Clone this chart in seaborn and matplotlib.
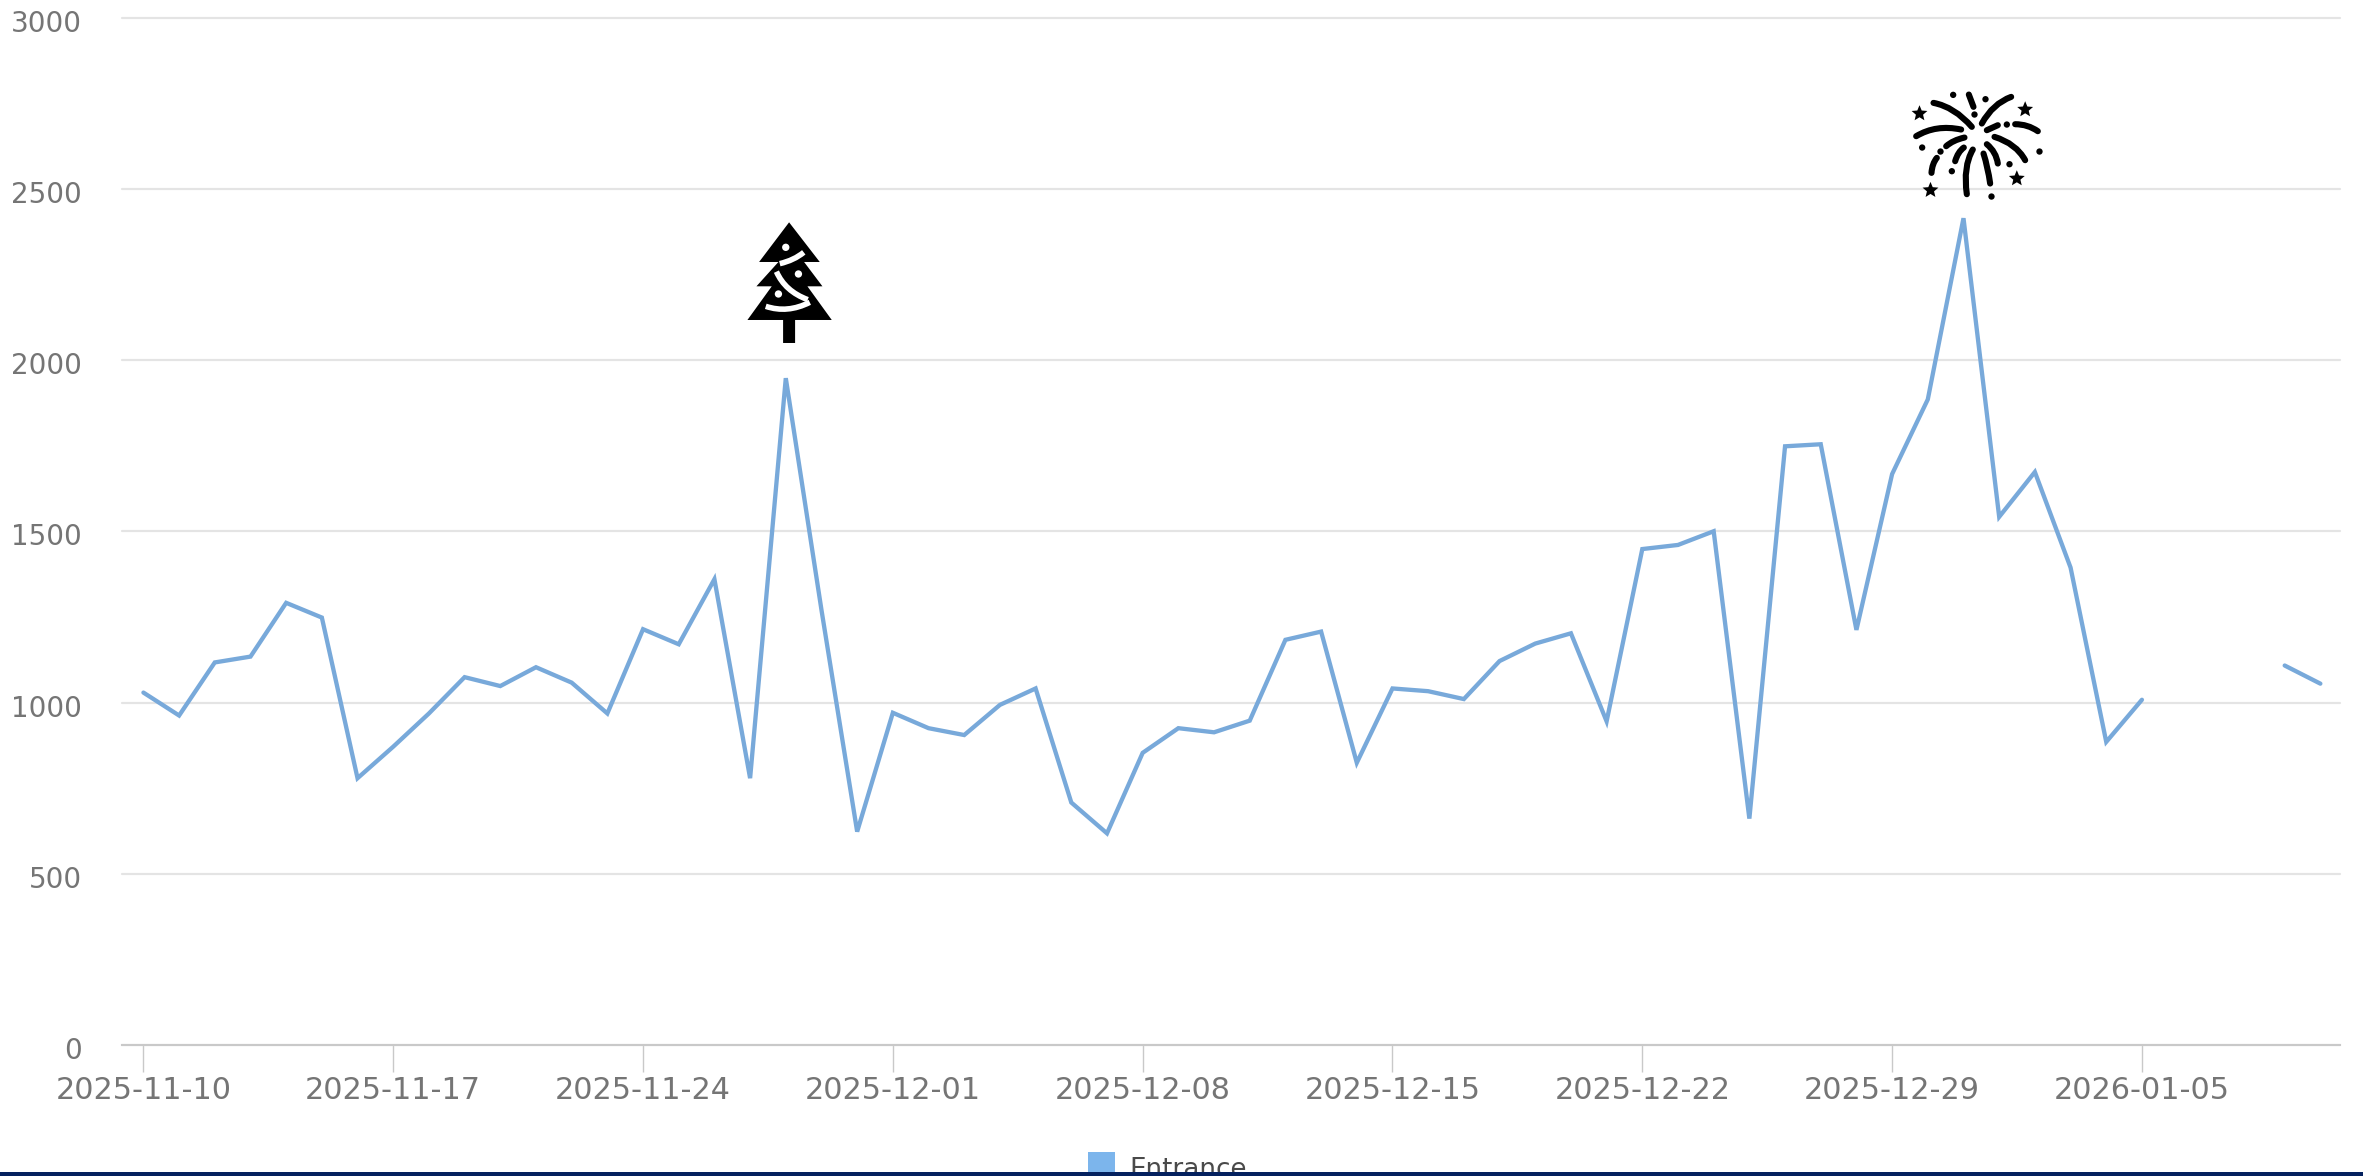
import matplotlib
matplotlib.use("Agg")
import matplotlib.dates as mdates
import matplotlib.pyplot as plt
import numpy as np
import pandas as pd
import seaborn as sns
from matplotlib.patches import Circle, Patch, PathPatch, Polygon, Rectangle
from matplotlib.path import Path
from matplotlib.transforms import Affine2D, ScaledTranslation

# Daily entrance counts; None marks days with no record
start_date = "2025-11-10"
entrance = [
    1029, 962, 1117, 1134, 1291, 1248, 779, 871, 968, 1074,
    1048, 1103, 1058, 968, 1214, 1170, 1360, 779, 1947, 1270,
    623, 970, 925, 905, 993, 1041, 708, 618, 853, 925,
    913, 947, 1183, 1207, 824, 1041, 1033, 1010, 1121, 1172,
    1202, 945, 1448, 1460, 1500, 661, 1748, 1754, 1212, 1667,
    1885, 2414, 1542, 1673, 1394, 885, 1008, None, None, None,
    1108, 1055,
]
series_name = "Entrance"
y_ticks = [0, 500, 1000, 1500, 2000, 2500, 3000]
week_ticks = [
    "2025-11-10", "2025-11-17", "2025-11-24", "2025-12-01", "2025-12-08",
    "2025-12-15", "2025-12-22", "2025-12-29", "2026-01-05",
]
christmas_day = "2025-11-28"
new_year_day = "2025-12-31"

W, H, DPI = 2363, 1176, 100
LINE = "#78a9da"
GRID = "#e4e4e4"
AXIS = "#c9c9c9"
LABEL = "#757575"

sns.set_theme(style="white")
plt.rcParams["font.family"] = ["DejaVu Sans"]

fig = plt.figure(figsize=(W / DPI, H / DPI), dpi=DPI, facecolor="white")
ax = fig.add_axes([122 / W, 1 - 1045 / H, (2340 - 122) / W, (1045 - 17.5) / H])

# A segment id keeps the line broken across the missing days
df = pd.DataFrame({
    "date": pd.date_range(start_date, periods=len(entrance), freq="D"),
    "count": pd.to_numeric(pd.Series(entrance), errors="coerce"),
})
df["segment"] = df["count"].isna().cumsum()
df = df.dropna()
sns.lineplot(data=df, x="date", y="count", units="segment", estimator=None,
             color=LINE, linewidth=3.1, ax=ax, legend=False, zorder=3,
             solid_joinstyle="miter")

first = mdates.date2num(pd.Timestamp(start_date))
ax.set_xlim(first - 0.6, first + 61.55)
ax.set_ylim(0, 3000)
ax.set_xlabel("")
ax.set_ylabel("")

ax.set_xticks(pd.to_datetime(week_ticks))
ax.xaxis.set_major_formatter(mdates.DateFormatter("%Y-%m-%d"))
ax.set_yticks(y_ticks)
ax.tick_params(axis="x", length=19.5, width=1.0, color=AXIS, labelcolor=LABEL,
               labelsize=21.8, pad=3, bottom=True)
ax.tick_params(axis="y", length=0, labelcolor=LABEL, labelsize=20, pad=29)

# Value labels hang slightly below their gridlines
nudge = ScaledTranslation(0, -3 / DPI, fig.dpi_scale_trans)
for lab in ax.get_yticklabels():
    lab.set_transform(lab.get_transform() + nudge)

ax.grid(axis="y", color=GRID, linewidth=1.6, clip_on=False)
ax.grid(axis="x", visible=False)
ax.set_axisbelow(True)
for side in ("top", "left", "right"):
    ax.spines[side].set_visible(False)
ax.spines["bottom"].set_color(AXIS)
ax.spines["bottom"].set_linewidth(1.5)

ax.legend(handles=[Patch(facecolor="#7cb5ec", edgecolor="none", label=series_name)],
          loc="upper left", bbox_to_anchor=(1078 / W, 1 - 1142 / H),
          bbox_transform=fig.transFigure, frameon=False, fontsize=18.8,
          handlelength=1.0, handleheight=1.45, handletextpad=0.55,
          labelcolor="#4a4a4a", borderaxespad=0, borderpad=0.4)


def add_stroke(points, tf, width, color="black", cap="round"):
    if len(points) == 3:
        codes = [Path.MOVETO, Path.CURVE3, Path.CURVE3]
    else:
        codes = [Path.MOVETO, Path.LINETO]
    fig.add_artist(PathPatch(Path(points, codes), fill=False, edgecolor=color,
                             linewidth=width, capstyle=cap, transform=tf,
                             clip_on=False, zorder=6))


def draw_tree(tf):
    outline = [(270, 68), (362, 187), (315, 187), (370, 260), (325, 260), (398, 361),
               (288, 361), (288, 430), (252, 430), (252, 361), (145, 361), (218, 260),
               (172, 260), (238, 187), (180, 187)]
    fig.add_artist(Polygon(outline, closed=True, facecolor="black", edgecolor="none",
                           transform=tf, clip_on=False, zorder=5))
    for cx, cy in [(260, 143), (298, 223), (238, 283)]:
        fig.add_artist(Circle((cx, cy), 11, facecolor="white", edgecolor="none",
                              transform=tf, clip_on=False, zorder=6))
    ribbons = [
        [(314, 158), (285, 182), (242, 192)],
        [(232, 216), (258, 275), (326, 300)],
        [(200, 320), (265, 342), (332, 308)],
    ]
    for ribbon in ribbons:
        add_stroke(ribbon, tf, 4.0, "white", cap="butt")


def draw_fireworks(tf):
    strokes = [
        [(252, 128), (315, 140), (367, 200)],
        [(485, 110), (430, 130), (397, 190)],
        [(358, 103), (372, 140)],
        [(200, 228), (260, 192), (335, 208)],
        [(412, 210), (445, 195)],
        [(497, 192), (535, 192), (565, 213)],
        [(345, 232), (310, 240), (290, 258)],
        [(435, 230), (500, 250), (527, 300)],
        [(343, 262), (325, 275), (317, 303)],
        [(412, 252), (440, 275), (445, 310)],
        [(370, 268), (340, 320), (352, 402)],
        [(402, 280), (415, 320), (422, 370)],
        [(262, 293), (248, 310), (246, 338)],
    ]
    for stroke in strokes:
        add_stroke(stroke, tf, 4.4)
    dots = [(311, 104), (408, 117), (375, 163), (472, 193), (218, 262),
            (273, 274), (570, 274), (307, 333), (480, 312), (426, 409)]
    for cx, cy in dots:
        fig.add_artist(Circle((cx, cy), 9.5, facecolor="black", edgecolor="none",
                              transform=tf, clip_on=False, zorder=6))
    star = Path.unit_regular_star(5, 0.45)
    for cx, cy in [(210, 160), (527, 148), (502, 355), (243, 390)]:
        place = Affine2D().scale(25, -25).translate(cx, cy) + tf
        fig.add_artist(PathPatch(star, facecolor="black", edgecolor="none",
                                 transform=place, clip_on=False, zorder=6))


# Holiday icons sit above the two peaks, anchored to their dates
fig.canvas.draw()
tree_px = ax.transData.transform((mdates.date2num(pd.Timestamp(christmas_day)), 1947))
fire_px = ax.transData.transform((mdates.date2num(pd.Timestamp(new_year_day)), 2414))
draw_tree(Affine2D().scale(1 / 3, -1 / 3).translate(tree_px[0] - 86.7, tree_px[1] + 178.5))
draw_fireworks(Affine2D().scale(1 / 3, -1 / 3).translate(fire_px[0] - 114, fire_px[1] + 158))

# Dark band along the bottom edge of the page
fig.add_artist(Rectangle((0, 0), 1, 4 / H, transform=fig.transFigure,
                         facecolor="#04215f", edgecolor="none", zorder=10))

fig.savefig("out.png", dpi=DPI, facecolor="white")
